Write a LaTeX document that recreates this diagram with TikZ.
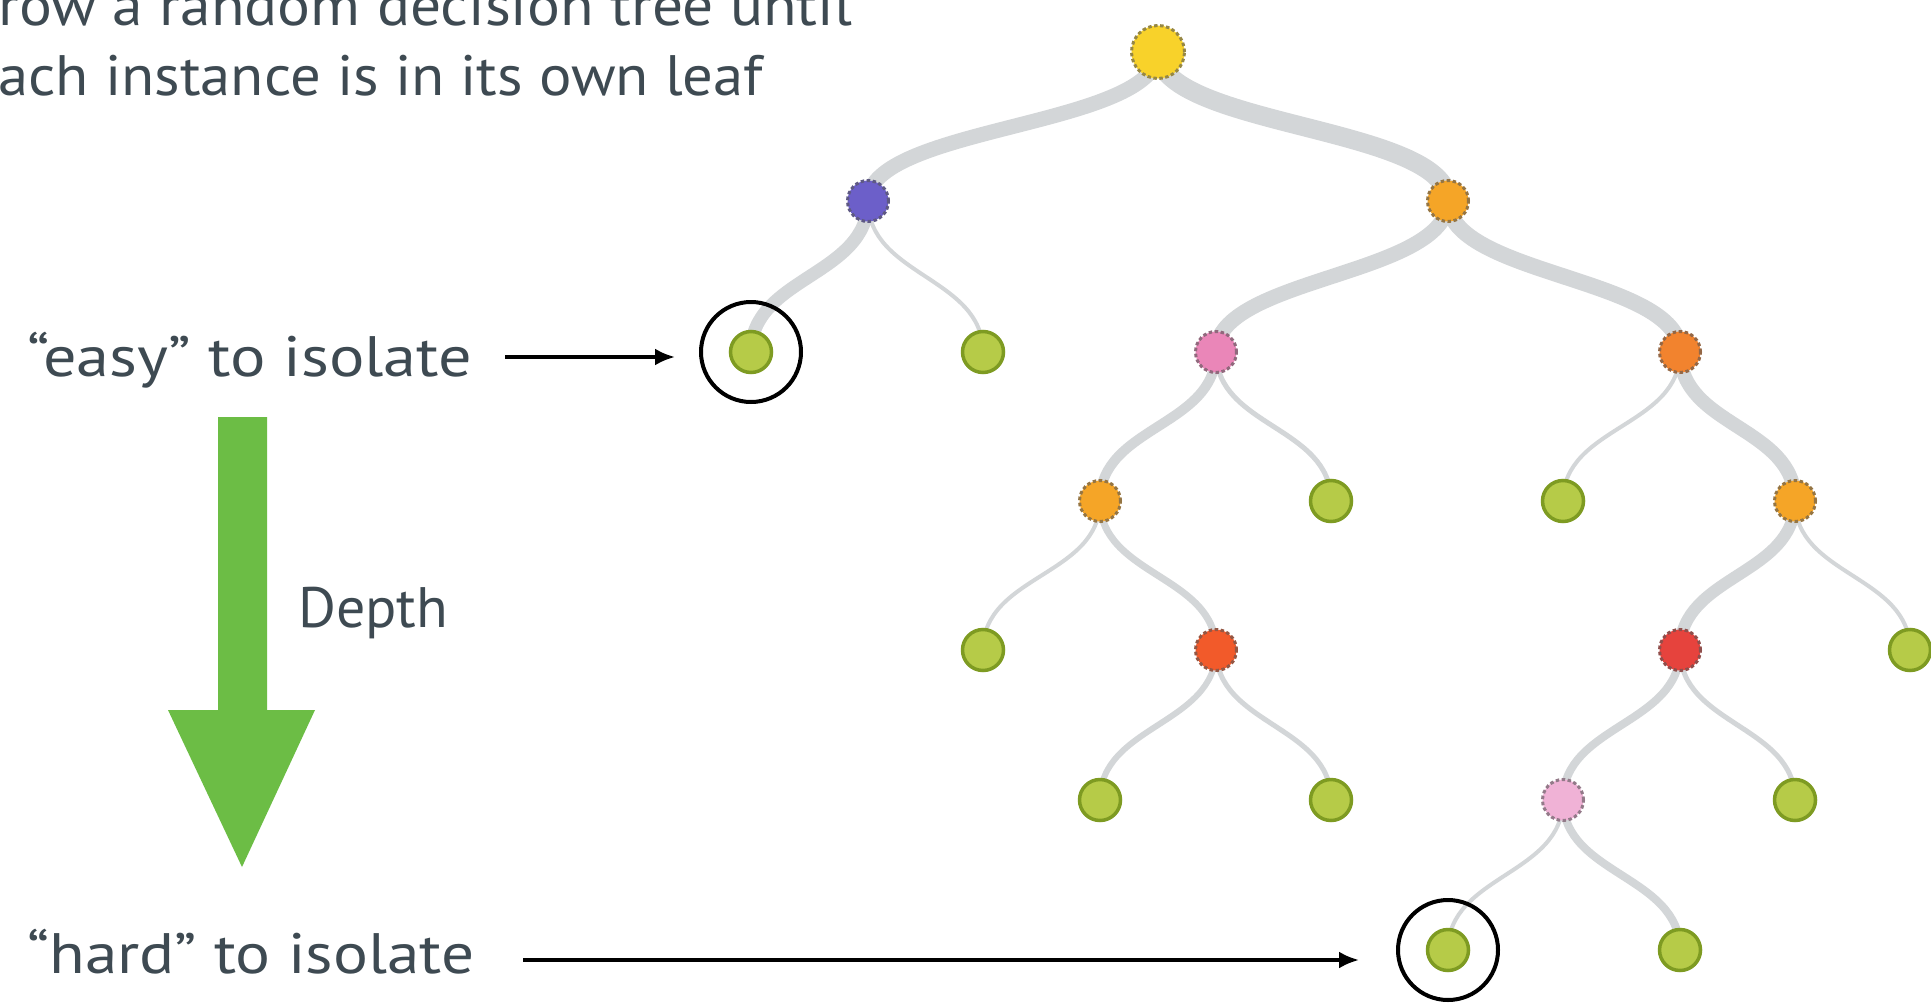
\documentclass[tikz,border=0pt]{standalone}
\usepackage{graphicx}
\usepackage{fontspec}
\setmainfont{PT Sans}
\usetikzlibrary{arrows.meta,backgrounds}
\definecolor{txt}{HTML}{3E4A52}
\definecolor{edgegray}{HTML}{D3D6D8}
\definecolor{leafg}{HTML}{B6CB48}
\definecolor{leafd}{HTML}{7E9B22}
\definecolor{cYellow}{HTML}{F8D22A}
\definecolor{cPurple}{HTML}{6C5FC9}
\definecolor{cOrange}{HTML}{F5A527}
\definecolor{cOrangeB}{HTML}{F2832E}
\definecolor{cPink}{HTML}{EA86B8}
\definecolor{cPinkL}{HTML}{F0B2D6}
\definecolor{cRedO}{HTML}{F25A2A}
\definecolor{cRed}{HTML}{E6433D}
\definecolor{arrowg}{HTML}{6CBD45}
\newcommand{\fitw}[2]{\resizebox{#1}{\height}{#2}}
\begin{document}
\begin{tikzpicture}[x=1pt,y=-1pt,
  lbl/.style={anchor=base west, inner sep=0pt, text=txt, font=\fontsize{57}{68}\selectfont},
  intnode/.style={circle, inner sep=0pt, minimum size=41pt, fill=#1, draw=#1!50!gray!80!black, line width=3pt, dash pattern=on 3.5pt off 2.5pt},
  leafnode/.style={circle, inner sep=0pt, minimum size=41pt, fill=leafg, draw=leafd, line width=3.5pt},
  ring/.style={circle, inner sep=0pt, minimum size=100pt, draw=black, line width=4pt},
  link/.style={draw=edgegray, line width=#1},
  blk/.style={draw=black, line width=3.5pt, -{Latex[length=20pt,width=17pt]}}]
\useasboundingbox (0,0) rectangle (1931,1004);
% tree nodes
\node[intnode=cYellow, minimum size=53pt] (root) at (1158,52) {};
\node[intnode=cPurple] (pur) at (868,201) {};
\node[intnode=cOrange] (or1) at (1448,201) {};
\node[leafnode] (g0) at (751,352) {};
\node[leafnode] (g1) at (983,352) {};
\node[intnode=cPink] (pk1) at (1216,352) {};
\node[intnode=cOrangeB] (or2) at (1680,352) {};
\node[intnode=cOrange] (or3) at (1100,501) {};
\node[leafnode] (g2) at (1331,501) {};
\node[leafnode] (g3) at (1563,501) {};
\node[intnode=cOrange] (or4) at (1795,501) {};
\node[leafnode] (g4) at (983,650) {};
\node[intnode=cRedO] (ro) at (1216,650) {};
\node[intnode=cRed] (rd) at (1680,650) {};
\node[leafnode] (g5) at (1910,650) {};
\node[leafnode] (g6) at (1100,800) {};
\node[leafnode] (g7) at (1331,800) {};
\node[intnode=cPinkL] (pk2) at (1563,800) {};
\node[leafnode] (g8) at (1795,800) {};
\node[leafnode] (g9) at (1448,950) {};
\node[leafnode] (g10) at (1680,950) {};
% rings
\node[ring] (ring1) at (g0) {};
\node[ring] (ring2) at (g9) {};
% links
\begin{pgfonlayer}{background}
\fill[white] (0,0) rectangle (1931,1004);
\foreach \p/\c/\w in {root/pur/15, root/or1/19, pur/g0/13, pur/g1/4, or1/pk1/15, or1/or2/16,
  pk1/or3/10, pk1/g2/5, or2/g3/4, or2/or4/14, or3/g4/4, or3/ro/7, or4/rd/12, or4/g5/4,
  ro/g6/6, ro/g7/5, rd/pk2/8, rd/g8/5, pk2/g9/4, pk2/g10/8}
  \draw[link=\w pt] (\p.center) .. controls +(0,75) and +(0,-75) .. (\c.center);
\end{pgfonlayer}
% texts
\node[lbl] (t1) at (-2,25) {\fitw{854pt}{row a random decision tree until}};
\node[lbl] (t2) at (-2,95) {\fitw{765pt}{ach instance is in its own leaf}};
\node[lbl] (easy) at (27,376) {\fitw{445pt}{“easy” to isolate}};
\node[lbl] (depth) at (298,627) {\fitw{150pt}{Depth}};
\node[lbl] (hard) at (27,973) {\fitw{447pt}{“hard” to isolate}};
% green depth arrow
\fill[arrowg] (218,417) -- (267,417) -- (267,710) -- (315,710) -- (242,867) -- (168,710) -- (218,710) -- cycle;
% pointer arrows
\coordinate (ea) at (505,357);
\coordinate (ha) at (523,960);
\draw[blk, shorten >=24pt] (ea) -- (ea -| ring1.west);
\draw[blk, shorten >=37pt] (ha) -- (ha -| ring2.west);
\end{tikzpicture}
\end{document}
